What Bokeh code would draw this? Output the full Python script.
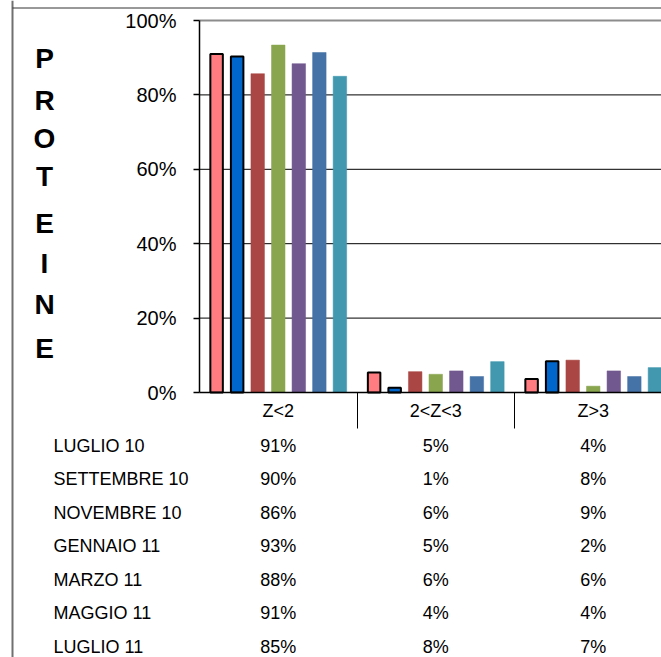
from bokeh.plotting import figure
from bokeh.models import Range1d, FixedTicker
from bokeh.core.properties import value
from bokeh.embed import file_html
from bokeh.resources import INLINE

# ---- data ----
categories = ["Z<2", "2<Z<3", "Z>3"]
series_names = ["LUGLIO 10", "SETTEMBRE 10", "NOVEMBRE 10", "GENNAIO 11",
                "MARZO 11", "MAGGIO 11", "LUGLIO 11"]
luglio_10 = [91.0, 5.4, 3.6]
settembre_10 = [90.3, 1.3, 8.4]
novembre_10 = [85.7, 5.6, 8.7]
gennaio_11 = [93.4, 4.9, 1.7]
marzo_11 = [88.4, 5.8, 5.8]
maggio_11 = [91.4, 4.3, 4.3]
luglio_11 = [85.0, 8.3, 6.7]
series_values = [luglio_10, settembre_10, novembre_10, gennaio_11,
                 marzo_11, maggio_11, luglio_11]
y_ticks = [0, 20, 40, 60, 80, 100]
y_tick_labels = ["0%", "20%", "40%", "60%", "80%", "100%"]
axis_title = "PROTEINE"

# ---- styles / layout ----
colors = ["#FF7C80", "#0066CC", "#AA4643", "#89A54E", "#71588F", "#4572A7", "#4198AF"]
bordered = [True, True, False, False, False, False, False]
FONT = value("Liberation Sans")
W, H = 661, 657
X0, Y0 = 199.0, 392.0          # pixel position of data origin
PX_CAT = 157.5                 # pixels per category
PX_PCT = 3.72                  # pixels per percent


def dx(px):
    return (px - X0) / PX_CAT


def dy(py):
    return (Y0 - py) / PX_PCT


p = figure(width=W, height=H, min_border=0,
           min_border_left=0, min_border_right=0, min_border_top=0, min_border_bottom=0,
           x_range=Range1d(dx(0), dx(W)), y_range=Range1d(dy(H), dy(0)),
           output_backend="svg", toolbar_location=None, tools="")
p.background_fill_color = "white"
p.border_fill_color = "white"
p.outline_line_color = None
p.xgrid.visible = False
p.ygrid.visible = False

x_end = dx(W)
cat_centers = [i + 0.5 for i in range(len(categories))]

# horizontal gridlines (from the y ticks)
grid_y = y_ticks[1:-1]
p.segment(x0=[0] * len(grid_y), x1=[x_end] * len(grid_y), y0=grid_y, y1=grid_y,
          line_color="black", line_width=1)
p.segment(x0=[0], x1=[x_end], y0=[y_ticks[-1]], y1=[y_ticks[-1]],
          line_color="#8c8c8c", line_width=2)

# y axis at the category origin
ya = p.yaxis[0]
ya.fixed_location = 0
ya.bounds = (y_ticks[0], y_ticks[-1])
ya.ticker = FixedTicker(ticks=y_ticks)
ya.major_label_overrides = {t: l for t, l in zip(y_ticks, y_tick_labels)}
ya.major_label_text_font = "Liberation Sans"
ya.major_label_text_font_size = "20px"
ya.major_label_text_color = "black"
ya.major_tick_out = 6
ya.major_tick_in = 0
ya.minor_tick_line_color = None
ya.major_label_standoff = 17
ya.axis_line_color = "black"
ya.axis_line_width = 1.5
ya.major_tick_line_color = "black"
ya.major_tick_line_width = 1.5

# x axis at 0%
xa = p.xaxis[0]
xa.fixed_location = 0
xa.bounds = (0, x_end)
xa.ticker = FixedTicker(ticks=cat_centers, minor_ticks=list(range(1, len(categories))))
xa.major_label_overrides = {c: l for c, l in zip(cat_centers, categories)}
xa.major_label_text_font = "Liberation Sans"
xa.major_label_text_font_size = "18px"
xa.major_label_text_color = "black"
xa.major_tick_line_color = None
xa.major_tick_out = 0
xa.major_tick_in = 0
xa.minor_tick_out = 36
xa.minor_tick_in = 0
xa.minor_tick_line_color = "black"
xa.minor_tick_line_width = 1
xa.major_label_standoff = -28
xa.axis_line_color = "black"
xa.axis_line_width = 1.5

# bars
pitch = 20.55 / PX_CAT
n = len(series_values)
for i, (vals, col, bd) in enumerate(zip(series_values, colors, bordered)):
    xs = [c + (i - (n - 1) / 2) * pitch for c in cat_centers]
    if bd:
        p.vbar(x=xs, top=vals, bottom=0, width=12.5 / PX_CAT,
               fill_color=col, line_color="black", line_width=2)
    else:
        p.vbar(x=xs, top=vals, bottom=0, width=13.5 / PX_CAT,
               fill_color=col, line_color=col, line_width=0.5)

# data table below the chart
row_y = [dy(445 + 33.5 * r) for r in range(n)]
p.text(x=[dx(53)] * n, y=row_y, text=series_names,
       text_font=FONT, text_font_size="18px", text_color="black",
       text_align="left", text_baseline="middle")
vx, vy, vt = [], [], []
for r, vals in enumerate(series_values):
    for c, v in enumerate(vals):
        vx.append(cat_centers[c])
        vy.append(row_y[r])
        vt.append(f"{round(v)}%")
p.text(x=vx, y=vy, text=vt, text_font=FONT, text_font_size="18px",
       text_color="black", text_align="center", text_baseline="middle")

# vertical stacked title
letter_px = [58, 100, 138, 176, 223, 263, 304, 348]
p.text(x=[dx(44)] * len(axis_title), y=[dy(v) for v in letter_px],
       text=list(axis_title), text_font=FONT, text_font_size="28px",
       text_font_style="bold", text_color="black",
       text_align="center", text_baseline="middle")

# outer chart border (left and top edges)
p.segment(x0=[dx(12)], x1=[dx(12)], y0=[dy(0)], y1=[dy(H)],
          line_color="#707070", line_width=2)
p.segment(x0=[dx(12)], x1=[dx(W)], y0=[dy(7.5)], y1=[dy(7.5)],
          line_color="#333333", line_width=1)

open("out.html", "w").write(file_html(p, INLINE))
